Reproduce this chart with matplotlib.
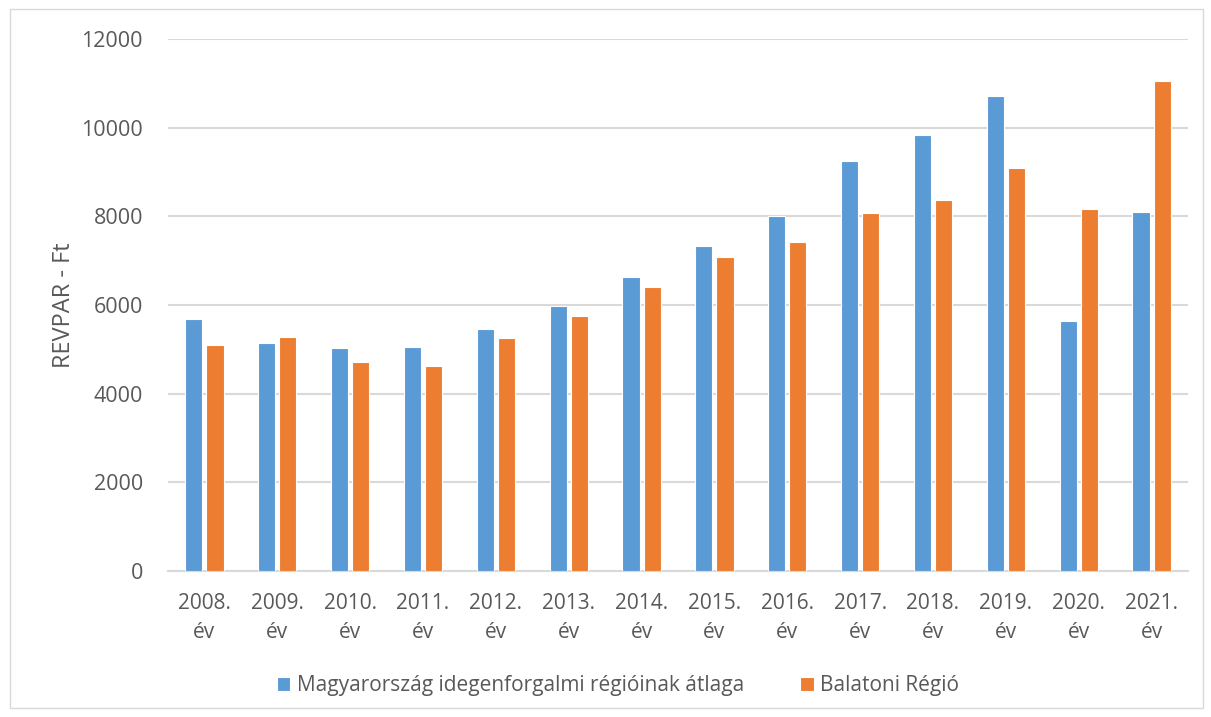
import numpy as np
import matplotlib.pyplot as plt
from matplotlib.patches import Rectangle

years = ["2008.", "2009.", "2010.", "2011.", "2012.", "2013.", "2014.",
         "2015.", "2016.", "2017.", "2018.", "2019.", "2020.", "2021."]
hu_avg = [5690, 5140, 5020, 5055, 5460, 5980, 6640, 7320, 8000, 9240,
          9825, 10710, 5630, 8090]
balaton = [5095, 5280, 4725, 4635, 5250, 5745, 6405, 7090, 7430, 8085,
           8360, 9090, 8160, 11050]
labels = [y + "\név" for y in years]

plt.rcParams['font.family'] = ['Open Sans', 'DejaVu Sans']
txt = "#595959"
grid = "#D9D9D9"

fig = plt.figure(figsize=(12.11, 7.17), dpi=100)
ax = fig.add_axes([0.1387, 0.2036, 0.8423, 0.742])
fig.patches.append(Rectangle((10 / 1211, 9 / 717), 1193 / 1211, 699 / 717,
                             transform=fig.transFigure, fill=False,
                             edgecolor=grid, linewidth=1))

x = np.arange(len(years))
w = 0.235
ax.bar(x - 0.145, hu_avg, w, color="#5B9BD5", edgecolor="white", linewidth=0.8,
       label="Magyarország idegenforgalmi régióinak átlaga", zorder=3)
ax.bar(x + 0.145, balaton, w, color="#ED7D31", edgecolor="white", linewidth=0.8,
       label="Balatoni Régió", zorder=3)

ax.set_xlim(-0.5, len(years) - 0.5)
ax.set_ylim(0, 12000)
ax.set_yticks(range(0, 12001, 2000))
ax.set_xticks(x)
ax.set_xticklabels(labels, fontsize=15, color=txt, linespacing=1.5)
ax.tick_params(axis="x", length=0, pad=16)
ax.tick_params(axis="y", length=0, pad=18, labelsize=15.5, labelcolor=txt)
ax.grid(axis="y", color=grid, linewidth=1.5, zorder=0)
for s in ["top", "right", "left"]:
    ax.spines[s].set_visible(False)
ax.spines["bottom"].set_color(grid)
ax.spines["bottom"].set_linewidth(1.5)
ax.set_ylabel("REVPAR - Ft", fontsize=17, color=txt, labelpad=4)

fig.legend(loc="center", bbox_to_anchor=(618 / 1211, 1 - 686 / 717), ncol=2,
           frameon=False, fontsize=15, labelcolor=txt, handlelength=0.65,
           handleheight=0.65, handletextpad=0.3, columnspacing=2.7)

fig.savefig("out.png", dpi=100)
